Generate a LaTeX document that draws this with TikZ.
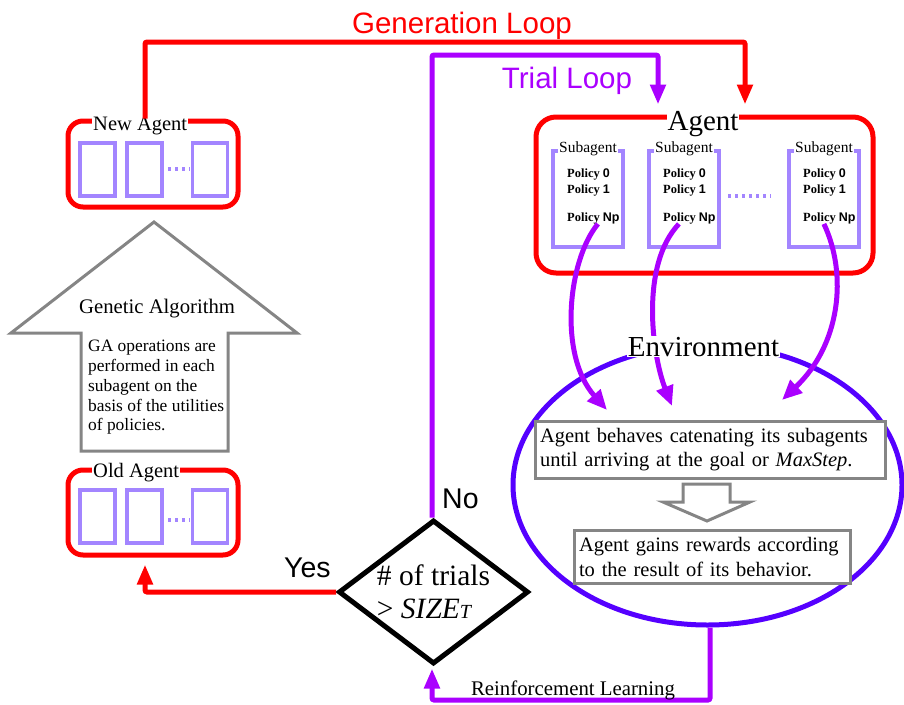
\documentclass[tikz,border=0pt]{standalone}
\usepackage{fontspec}
\setmainfont{Liberation Serif}
\newfontfamily\arialf{Liberation Sans}
\usetikzlibrary{shapes.geometric,arrows.meta,calc}
\definecolor{redc}{HTML}{FF0000}
\definecolor{trialc}{HTML}{AA00FF}
\definecolor{envc}{HTML}{5500FF}
\definecolor{subc}{HTML}{A385FF}
\definecolor{grayc}{HTML}{858585}
\newcommand\myfs[2]{\fontsize{#1}{#2}\selectfont}
\begin{document}
\begin{tikzpicture}[x=1pt,y=-1pt,
 agentbox/.style={draw=redc, line width=5pt, rounded corners=15pt, minimum width=170pt, minimum height=86pt, inner sep=0pt},
 cell/.style={draw=subc, line width=3.5pt, minimum width=35pt, minimum height=53pt, inner sep=0pt},
 subbox/.style={draw=subc, line width=3.5pt, minimum width=70pt, minimum height=96pt, inner sep=0pt},
 boxlabel/.style={fill=white, inner sep=1pt, anchor=base west, font=\myfs{20.5}{24}},
 sublabel/.style={fill=white, inner sep=1pt, anchor=base, font=\myfs{15.5}{18}},
 policy/.style={inner sep=0pt, anchor=base west, font=\myfs{12.5}{14}\bfseries},
 graybox/.style={draw=grayc, line width=3pt, fill=white, inner sep=0pt, inner xsep=5pt, align=left, font=\myfs{20.5}{24.5}},
 dotsline/.style={draw=subc, line width=3.5pt, dash pattern=on 3pt off 4pt},
 genline/.style={draw=redc, line width=5pt, rounded corners=2pt, -{Triangle[length=20pt,width=15pt]}},
 trialline/.style={draw=trialc, line width=5pt, rounded corners=2pt, -{Triangle[length=20pt,width=15pt]}},
 curvearrow/.style={draw=trialc, line width=5pt, -{Triangle[length=20pt,width=17pt]}},
 looplabel/.style={inner sep=0pt, anchor=base, font=\arialf\myfs{29.5}{32}},
 sanslabel/.style={inner sep=0pt, anchor=base west, font=\arialf\myfs{28.5}{32}},
 serlabel/.style={inner sep=0pt, anchor=base, font=\myfs{20.8}{24}},
]
\useasboundingbox (0,0) rectangle (904,704);

% ---------- New Agent ----------
\node[agentbox] (newagent) at (153,164) {};
\node[boxlabel] (newlabel) at (92,130) {New Agent};
\node[cell] (nc1) at (97.5,169.5) {};
\node[cell] (nc2) at (144.5,169.5) {};
\node[cell] (nc3) at (210,169.5) {};
\draw[dotsline] (168,169) -- (190,169);

% ---------- Old Agent ----------
\node[agentbox, minimum height=85pt] (oldagent) at (153,512.5) {};
\node[boxlabel] (oldlabel) at (92,477) {Old Agent};
\node[cell] (oc1) at (97.5,516.5) {};
\node[cell] (oc2) at (144.5,516.5) {};
\node[cell] (oc3) at (210,516.5) {};
\draw[dotsline] (168,520) -- (190,520);

% ---------- Genetic Algorithm arrow ----------
\draw[grayc, line width=3pt, fill=white] (154,222) -- (297,333) -- (228,333) -- (228,451) -- (81,451) -- (81,333) -- (11,333) -- cycle;
\node[inner sep=0pt, anchor=base west, font=\myfs{20.7}{24}] (gatitle) at (79,313) {Genetic Algorithm};
\node[inner sep=0pt, anchor=north west, align=left, font=\myfs{17.4}{19.8}] (gabody) at (88,340) {GA operations are\\performed in each\\subagent on the\\basis of the utilities\\of policies.};

% ---------- Agent ----------
\node[agentbox, minimum width=337pt, minimum height=156pt, rounded corners=20pt] (agent) at (704.5,195) {};
\node[inner sep=0.5pt, fill=white, anchor=base, font=\myfs{29}{32}] (agentlabel) at (703,130) {Agent};
\foreach \i/\cx in {1/588,2/684,3/824} {
  \node[subbox] (sub\i) at (\cx,199) {};
  \node[sublabel] (sublab\i) at (\cx,152) {Subagent};
  \node[policy] (pz\i) at (\cx-21,177) {Policy {\arialf\bfseries 0}};
  \node[policy] (po\i) at (\cx-21,193) {Policy {\arialf\bfseries 1}};
  \node[policy] (pn\i) at (\cx-21,221) {Policy {\arialf\bfseries Np}};
}
\draw[dotsline] (728,196) -- (771,196);

% ---------- Environment ----------
\node[ellipse, draw=envc, line width=5pt, minimum width=389pt, minimum height=280pt, inner sep=0pt] (env) at (707.5,485) {};
\node[graybox, text width=340pt, minimum height=57pt] (behave) at (710,449.5) {Agent behaves catenating its subagents\\until arriving at the goal or \textit{MaxStep}.};
\draw[grayc, line width=3pt, fill=white] (683,484) -- (730,484) -- (730,502) -- (750,502) -- (707,521) -- (663,502) -- (683,502) -- cycle;
\node[graybox, text width=266pt, minimum height=53pt] (reward) at (712,557) {Agent gains rewards according\\to the result of its behavior.};

% ---------- curved arrows ----------
\coordinate (t1) at (607,410);
\coordinate (t2) at (672,406);
\coordinate (t3) at (782,400);
\draw[curvearrow] ([xshift=4.5pt]pn1.south) .. controls (568,260) and (558,355) .. (t1);
\draw[curvearrow] ([xshift=-10.5pt]pn2.south) .. controls (640,265) and (652,355) .. (t2);
\draw[curvearrow] ([xshift=-5.5pt]pn3.south) .. controls (848,275) and (840,345) .. (t3);
\node[fill=white, inner sep=1pt, anchor=base, font=\myfs{29}{32}] (envlabel) at (703.5,356) {Environment};

% ---------- decision ----------
\node[diamond, draw=black, line width=5pt, aspect=1.3, inner sep=0pt, minimum width=190pt, minimum height=144pt, align=left, font=\myfs{29.5}{33}] (dec) at (433.5,592) {\# of trials\\> \textit{SIZE}{\myfs{20}{20}\itshape T}};

% ---------- loops ----------
\coordinate (gentop) at (450,42);
\coordinate (trialtop) at (540,55);
\coordinate (rlbottom) at (570,700);
\draw[genline] ([xshift=-8pt]newagent.north) |- (gentop) -| ([xshift=40.5pt,yshift=10pt]agent.north);
\draw[trialline] ([xshift=-1.5pt]dec.north) |- (trialtop) -| ([xshift=-46.5pt,yshift=10pt]agent.north);
\draw[genline] (dec.west) -| ([xshift=-8pt,yshift=-7pt]oldagent.south);
\draw[trialline] ([xshift=2.5pt]env.south) |- (rlbottom) -| ([xshift=-1.5pt,yshift=-2pt]dec.south);

% ---------- labels ----------
\node[looplabel, text=redc] (genlabel) at (462,33) {Generation Loop};
\node[looplabel, text=trialc] (triallabel) at (567,88) {Trial Loop};
\node[sanslabel] (yeslabel) at (284,577) {Yes};
\node[sanslabel] (nolabel) at (442,508) {No};
\node[serlabel] (rllabel) at (573,695) {Reinforcement Learning};
\end{tikzpicture}
\end{document}
